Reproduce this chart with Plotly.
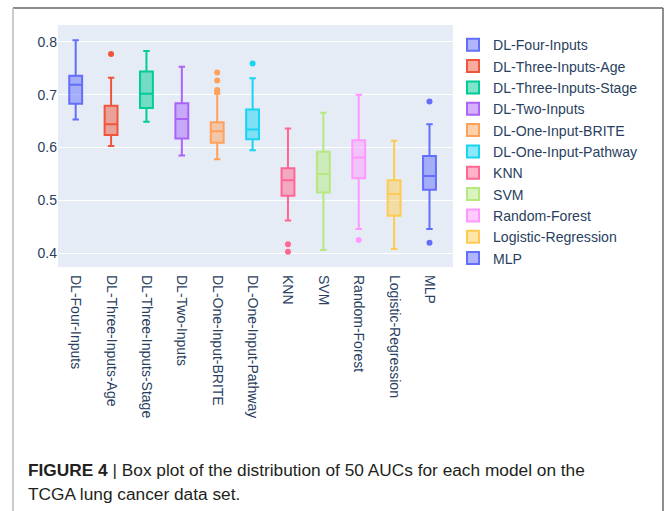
import plotly.graph_objects as go

models = ["DL-Four-Inputs", "DL-Three-Inputs-Age", "DL-Three-Inputs-Stage", "DL-Two-Inputs",
          "DL-One-Input-BRITE", "DL-One-Input-Pathway", "KNN", "SVM", "Random-Forest",
          "Logistic-Regression", "MLP"]
lower = [0.653, 0.603, 0.649, 0.585, 0.578, 0.595, 0.462, 0.406, 0.446, 0.408, 0.446]
q1 = [0.683, 0.624, 0.675, 0.617, 0.609, 0.616, 0.509, 0.515, 0.542, 0.471, 0.520]
median = [0.719, 0.644, 0.702, 0.654, 0.631, 0.634, 0.538, 0.550, 0.581, 0.512, 0.546]
q3 = [0.736, 0.679, 0.744, 0.684, 0.648, 0.672, 0.561, 0.592, 0.614, 0.538, 0.584]
upper = [0.803, 0.732, 0.783, 0.753, 0.702, 0.731, 0.636, 0.666, 0.700, 0.613, 0.644]
outliers = [[], [0.777], [], [], [0.742, 0.727, 0.709, 0.707], [0.759], [0.417, 0.403],
            [], [0.425], [], [0.687, 0.420]]

colors = ["#636efa", "#EF553B", "#00cc96", "#ab63fa", "#FFA15A", "#19d3f3", "#FF6692",
          "#B6E880", "#FF97FF", "#FECB52", "#636efa"]

fig = go.Figure()
for i, m in enumerate(models):
    fig.add_trace(go.Box(
        x=[m], q1=[q1[i]], median=[median[i]], q3=[q3[i]],
        lowerfence=[lower[i]], upperfence=[upper[i]],
        name=m, marker_color=colors[i], line=dict(color=colors[i], width=2),
        boxpoints=False))
for i, m in enumerate(models):
    if outliers[i]:
        fig.add_trace(go.Scatter(
            x=[m] * len(outliers[i]), y=outliers[i], mode="markers",
            marker=dict(color=colors[i], size=6), showlegend=False, hoverinfo="y"))

# plot area: x 58..453, y 25..267
L, R, T, B = 58, 453, 25, 267
W, H = R - L, B - T
def px(x):
    return (x - L) / W
def py(y):
    return (B - y) / H

fig.update_layout(
    width=665, height=511,
    template="plotly",
    margin=dict(l=L, r=665 - R, t=T, b=511 - B, pad=0),
    font=dict(family="Liberation Sans, Arial, sans-serif", size=14, color="#2a3f5f"),
    boxgap=0.48,
    showlegend=True,
    legend=dict(x=1.0, y=0.983, xanchor="left", yanchor="top", maxheight=400,
                font=dict(size=14.1), tracegroupgap=0),
    xaxis=dict(tickangle=90, showgrid=False, automargin=False, ticklabelstandoff=7),
    yaxis=dict(range=[0.374, 0.832], tickvals=[0.4, 0.5, 0.6, 0.7, 0.8],
               ticktext=["0.4", "0.5", "0.6", "0.7", "0.8"], automargin=False,
               zeroline=False),
    paper_bgcolor="white",
)

# frame lines
fig.add_shape(type="line", xref="paper", yref="paper", x0=px(13), x1=px(663), y0=py(8), y1=py(8),
              line=dict(color="#666666", width=1.5))
fig.add_shape(type="line", xref="paper", yref="paper", x0=px(663), x1=px(663), y0=py(8), y1=py(520),
              line=dict(color="#666666", width=1.5))
fig.add_shape(type="line", xref="paper", yref="paper", x0=px(13), x1=px(13), y0=py(8), y1=py(520),
              line=dict(color="#bbbbbb", width=1.5))

cap_font = dict(family="Liberation Sans, Arial, sans-serif", size=17.3, color="#231f20")
fig.add_annotation(xref="paper", yref="paper", x=px(26), y=py(470), xanchor="left", yanchor="middle",
                   showarrow=False, align="left", font=cap_font,
                   text="<b>FIGURE 4</b> | Box plot of the distribution of 50 AUCs for each model on the")
fig.add_annotation(xref="paper", yref="paper", x=px(26), y=py(494), xanchor="left", yanchor="middle",
                   showarrow=False, align="left", font=cap_font,
                   text="TCGA lung cancer data set.")

fig.write_html("out.html", config={"displayModeBar": False},
               post_script="document.body.style.margin='0';document.body.style.overflow='hidden';")
